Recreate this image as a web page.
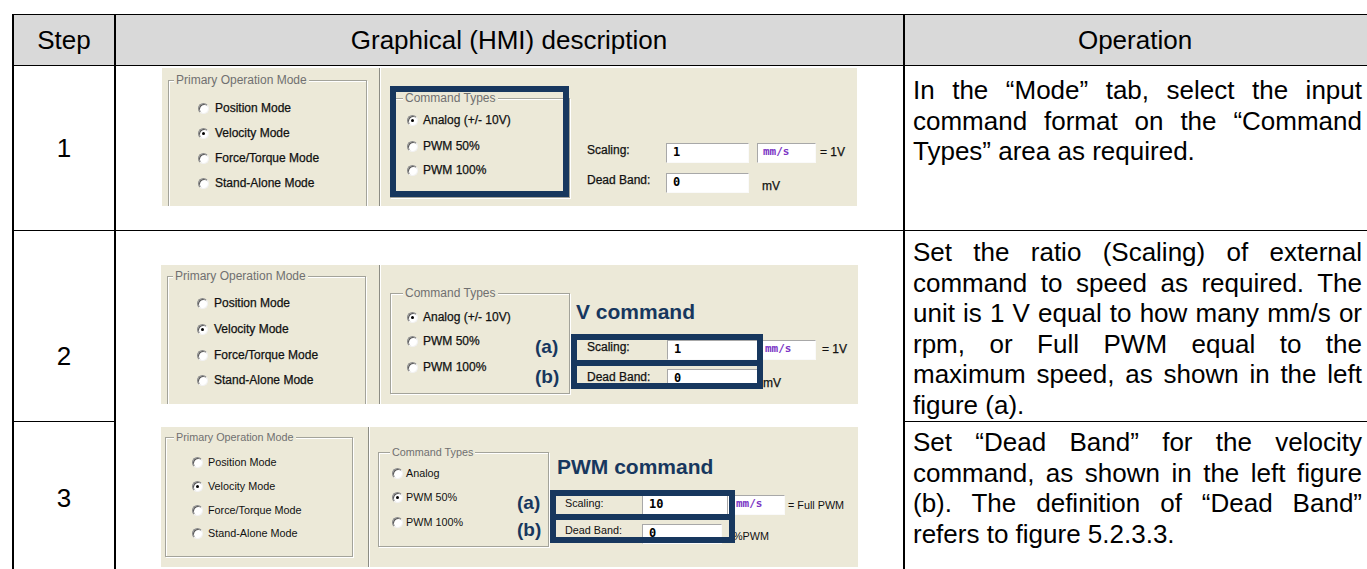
<!DOCTYPE html>
<html>
<head>
<meta charset="utf-8">
<script src="https://cdn.jsdelivr.net/npm/chart.js@4.4.1/dist/chart.umd.min.js"></script>
<style>
html, body { margin: 0; padding: 0; background: #fff; }
#page { position: relative; width: 1367px; height: 569px; overflow: hidden; font-family: "Liberation Sans", Arial, sans-serif; color: #000; }
.abs { position: absolute; white-space: nowrap; }
.hline { position: absolute; height: 1px; background: #000; }
.vline { position: absolute; width: 2px; background: #000; }
.head { position: absolute; font-size: 26px; line-height: 30px; text-align: center; }
.opline { position: absolute; width: 449px; font-size: 26px; line-height: 30px; text-align: justify; text-align-last: justify; white-space: nowrap; }
.opline.last { text-align-last: left; }
.panel { position: absolute; background: #ece9d8; overflow: hidden; font-family: "Liberation Sans", Arial, sans-serif; color: #111; }
.panel.crisp .abs { -webkit-text-stroke: 0.25px #111; }
.panel.crisp .abs.gt { -webkit-text-stroke: 0; }
.grp { position: absolute; box-sizing: border-box; border: 1px solid #a3a39a; box-shadow: 1px 1px 0 #fff, inset 1px 1px 0 #fff; }
.sep { position: absolute; top: 0; bottom: 0; width: 1px; background: #8c8c84; box-shadow: 1px 0 0 #fff; }
.radio { position: absolute; width: 11px; height: 11px; box-sizing: border-box; border-radius: 50%; background: #fff; border: 1px solid; border-color: #8a8a8a #f2f2f2 #f2f2f2 #8a8a8a; box-shadow: inset 1px 1px 0 #5a5a5a; }
.radio.on::after { content: ""; position: absolute; left: 3px; top: 3px; width: 3px; height: 3px; border-radius: 50%; background: #000; }
.inp { position: absolute; box-sizing: border-box; background: #fff; border: 1px solid; border-color: #a8a8a8 #fafafa #fafafa #a8a8a8; font-family: "DejaVu Sans Mono", monospace; font-weight: bold; font-size: 12px; color: #000; padding-left: 6px; }
.unit { color: #7b35c4; font-size: 11px; }
.navy { position: absolute; box-sizing: border-box; border: 6px solid #17375e; z-index: 5; }
.bar { position: absolute; background: #17375e; z-index: 5; }
.heading { position: absolute; font-weight: bold; color: #17375e; white-space: nowrap; }
</style>
</head>
<body>
<div id="page"></div>
<script>
// table text
const headers = ['Step', 'Graphical (HMI) description', 'Operation'];
const steps = ['1', '2', '3'];
const operationLines = [
    ['In the \u201cMode\u201d tab, select the input', 'command format on the \u201cCommand', 'Types\u201d area as required.'],
    ['Set the ratio (Scaling) of external', 'command to speed as required. The', 'unit is 1 V equal to how many mm/s or', 'rpm, or Full PWM equal to the', 'maximum speed, as shown in the left', 'figure (a).'],
    ['Set \u201cDead Band\u201d for the velocity', 'command, as shown in the left figure', '(b). The definition of \u201cDead Band\u201d', 'refers to figure 5.2.3.3.']
];

// HMI screenshot content
const modeTitle = 'Primary Operation Mode';
const modeOptions = ['Position Mode', 'Velocity Mode', 'Force/Torque Mode', 'Stand-Alone Mode'];
const selectedMode = 1;
const commandTitle = 'Command Types';
const commandOptions = [
    ['Analog (+/- 10V)', 'PWM 50%', 'PWM 100%'],
    ['Analog (+/- 10V)', 'PWM 50%', 'PWM 100%'],
    ['Analog', 'PWM 50%', 'PWM 100%']
];
const selectedCommand = [0, 0, 1];
const panelHeadings = ['', 'V command', 'PWM command'];
const scalingLabel = 'Scaling:';
const deadBandLabel = 'Dead Band:';
const scalingValues = ['1', '1', '10'];
const deadBandValues = ['0', '0', '0'];
const scalingUnit = 'mm/s';
const scalingEquals = ['= 1V', '= 1V', '= Full PWM'];
const deadBandUnits = ['mV', 'mV', '%PWM'];
const markA = '(a)';
const markB = '(b)';

// layout of the three screenshots (pixels, relative to each panel)
const panelLayouts = [
    { x: 162, y: 68, w: 695, h: 138, font: 12, crisp: true,
      grp: { x: 6, y: 12, w: 199, h: 140, tx: 12 }, radioX: 41, labelX: 53, radioY: [40, 65, 90, 115], sep: 217,
      cmd: { x: 228, y: 30, w: 180, h: 100, tx: 241 }, cmdRadioX: 250, cmdLabelX: 261, cmdRadioY: [52, 78, 102],
      navy: { x: 228, y: 18, w: 179, h: 111 }, bar: null, heading: null, marks: null,
      scal: { lx: 425, y: 82, ix: 504, iw: 83, iy: 75, ih: 20, ux: 595, uw: 59, upad: 5, eqx: 658 },
      dead: { y: 112, iy: 105, ih: 20, ux: 600 } },
    { x: 161, y: 265, w: 697, h: 139, font: 12, crisp: true,
      grp: { x: 6, y: 11, w: 199, h: 140, tx: 12 }, radioX: 41, labelX: 53, radioY: [38, 64, 90, 115], sep: 218,
      cmd: { x: 229, y: 28, w: 180, h: 101, tx: 242 }, cmdRadioX: 251, cmdLabelX: 262, cmdRadioY: [52, 76, 102],
      navy: { x: 410, y: 69, w: 192, h: 55 }, bar: { y: 95, h: 6 }, heading: { x: 415, y: 47, size: 21 },
      marks: { x: 374, ya: 82, yb: 112, size: 19 },
      scal: { lx: 426, y: 82, ix: 506, iw: 91, iy: 75, ih: 20, ux: 597, uw: 58, upad: 6, eqx: 661 },
      dead: { y: 112, iy: 104, ih: 20, ux: 602 } },
    { x: 161, y: 427, w: 697, h: 140, font: 10.8, crisp: false,
      grp: { x: 4, y: 10, w: 188, h: 120, tx: 13 }, radioX: 36, labelX: 47, radioY: [35, 59, 83, 106], sep: 207,
      cmd: { x: 217, y: 25, w: 171, h: 95, tx: 229 }, cmdRadioX: 236, cmdLabelX: 245, cmdRadioY: [46, 70, 95],
      navy: { x: 389, y: 63, w: 185, h: 53 }, bar: { y: 87, h: 6 }, heading: { x: 396, y: 40, size: 21 },
      marks: { x: 356, ya: 76, yb: 103, size: 19 },
      scal: { lx: 404, y: 76, ix: 481, iw: 88, iy: 68, ih: 20, ux: 566, uw: 58, upad: 8, eqx: 627 },
      dead: { y: 103, iy: 97, ih: 20, ux: 572 } }
];

const page = document.getElementById('page');

function el(parent, cls, css, text) {
    const d = document.createElement('div');
    d.className = cls;
    Object.assign(d.style, css);
    if (text !== undefined) d.textContent = text;
    parent.appendChild(d);
    return d;
}

// text whose visual centre sits on cy
function label(parent, x, cy, text, size, extra, cls) {
    return el(parent, cls || 'abs', Object.assign({ left: x + 'px', top: (cy - 8) + 'px', lineHeight: '16px', fontSize: size + 'px' }, extra || {}), text);
}

function radio(parent, cx, cy, on) {
    el(parent, on ? 'radio on' : 'radio', { left: (cx - 5) + 'px', top: (cy - 5) + 'px' });
}

function buildPanel(i) {
    const L = panelLayouts[i];
    const p = el(page, L.crisp ? 'panel crisp' : 'panel', { left: L.x + 'px', top: L.y + 'px', width: L.w + 'px', height: L.h + 'px', fontSize: L.font + 'px' });
    const titleCss = { background: '#ece9d8', color: '#707070', padding: '0 2px' };

    // primary operation mode group
    el(p, 'grp', { left: L.grp.x + 'px', top: L.grp.y + 'px', width: L.grp.w + 'px', height: L.grp.h + 'px' });
    label(p, L.grp.tx, L.grp.y, modeTitle, L.font, titleCss, 'abs gt');
    modeOptions.forEach((m, k) => {
        radio(p, L.radioX, L.radioY[k], k === selectedMode);
        label(p, L.labelX, L.radioY[k], m, L.font);
    });
    el(p, 'sep', { left: L.sep + 'px' });

    // command types group
    el(p, 'grp', { left: L.cmd.x + 'px', top: L.cmd.y + 'px', width: L.cmd.w + 'px', height: L.cmd.h + 'px' });
    label(p, L.cmd.tx, L.cmd.y, commandTitle, L.font, titleCss, 'abs gt');
    commandOptions[i].forEach((c, k) => {
        radio(p, L.cmdRadioX, L.cmdRadioY[k], k === selectedCommand[i]);
        label(p, L.cmdLabelX, L.cmdRadioY[k], c, L.font);
    });

    // scaling / dead band fields
    const S = L.scal, D = L.dead;
    label(p, S.lx, S.y, scalingLabel, L.font);
    el(p, 'inp', { left: S.ix + 'px', top: S.iy + 'px', width: S.iw + 'px', height: S.ih + 'px', lineHeight: (S.ih - 4) + 'px' }, scalingValues[i]);
    el(p, 'inp unit', { left: S.ux + 'px', top: S.iy + 'px', width: S.uw + 'px', height: S.ih + 'px', lineHeight: (S.ih - 4) + 'px', paddingLeft: S.upad + 'px' }, scalingUnit);
    label(p, S.eqx, S.y + 2, scalingEquals[i], L.font);
    label(p, S.lx, D.y, deadBandLabel, L.font);
    el(p, 'inp', { left: S.ix + 'px', top: D.iy + 'px', width: (S.iw - (i === 2 ? 8 : 0)) + 'px', height: D.ih + 'px', lineHeight: (D.ih - 4) + 'px' }, deadBandValues[i]);
    label(p, D.ux, D.y + 6, deadBandUnits[i], L.font);

    // navy highlight boxes
    el(p, 'navy', { left: L.navy.x + 'px', top: L.navy.y + 'px', width: L.navy.w + 'px', height: L.navy.h + 'px' });
    if (L.bar) el(p, 'bar', { left: L.navy.x + 'px', top: L.bar.y + 'px', width: L.navy.w + 'px', height: L.bar.h + 'px' });
    if (L.heading) {
        el(p, 'heading', { left: L.heading.x + 'px', top: (L.heading.y - 13) + 'px', lineHeight: '26px', fontSize: L.heading.size + 'px' }, panelHeadings[i]);
    }
    if (L.marks) {
        el(p, 'heading', { left: L.marks.x + 'px', top: (L.marks.ya - 12) + 'px', lineHeight: '24px', fontSize: L.marks.size + 'px' }, markA);
        el(p, 'heading', { left: L.marks.x + 'px', top: (L.marks.yb - 12) + 'px', lineHeight: '24px', fontSize: L.marks.size + 'px' }, markB);
    }
}

// table frame
el(page, 'abs', { left: '12px', top: '14px', width: '1355px', height: '51px', background: '#d9d9d9' });
el(page, 'hline', { left: '12px', top: '14px', width: '1355px' });
el(page, 'hline', { left: '12px', top: '65px', width: '1355px' });
el(page, 'hline', { left: '12px', top: '230px', width: '1355px' });
el(page, 'hline', { left: '12px', top: '421px', width: '103px' });
el(page, 'hline', { left: '903px', top: '421px', width: '464px' });
[12, 114, 903].forEach(x => el(page, 'vline', { left: x + 'px', top: '14px', height: '555px' }));

// header
const headCenters = [64, 509, 1135];
headers.forEach((h, k) => el(page, 'head', { left: (headCenters[k] - 300) + 'px', width: '600px', top: '25px' }, h));

// step numbers
const stepCenters = [148, 356, 498];
steps.forEach((s, k) => el(page, 'head', { left: '14px', width: '100px', top: (stepCenters[k] - 15) + 'px' }, s));

// operation text
const rowTops = [75, 237, 427];
operationLines.forEach((lines, r) => {
    lines.forEach((t, k) => {
        el(page, k === lines.length - 1 ? 'opline last' : 'opline', { left: '913px', top: (rowTops[r] + k * 30.5) + 'px' }, t);
    });
});

// screenshots
panelLayouts.forEach((_, i) => buildPanel(i));
</script>
</body>
</html>
